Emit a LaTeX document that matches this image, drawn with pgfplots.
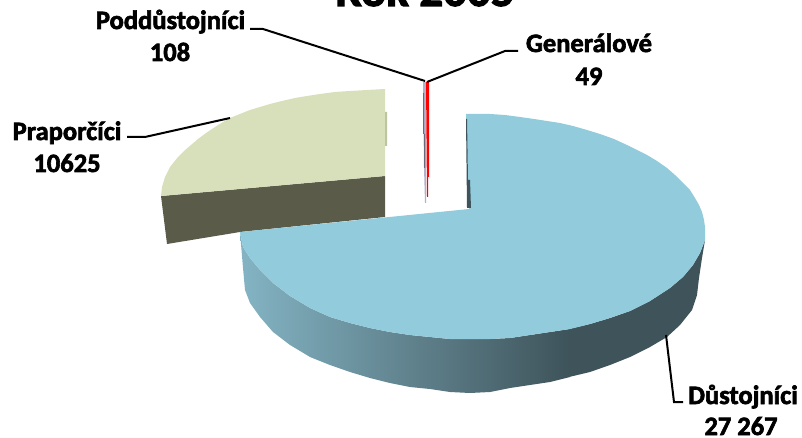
\documentclass[border=0pt]{standalone}
\usepackage{fontspec}
\setmainfont{Carlito}
\newfontfamily\lab[FakeBold=2.4]{Carlito Bold}
\usepackage{pgfplots}
\pgfplotsset{compat=1.18}
\definecolor{bluetop}{RGB}{146,203,219}
\definecolor{blueside}{RGB}{62,83,90}
\definecolor{bluelite}{RGB}{132,180,196}
\definecolor{greentop}{RGB}{215,224,187}
\definecolor{greenside}{RGB}{90,92,73}
\definecolor{greensliver}{RGB}{188,197,160}
\definecolor{lilac}{RGB}{178,178,205}
\definecolor{lilacdark}{RGB}{105,105,125}
\begin{document}
\begin{tikzpicture}
\useasboundingbox (0,0) rectangle (802pt,438pt);
\begin{axis}[
    at={(0,0)}, anchor=south west,
    scale only axis,
    width=802pt, height=438pt,
    xmin=0, xmax=802, ymin=0, ymax=438,
    y dir=reverse,
    hide axis,
]
% Praporcici: side, top
\addplot[draw=none, fill=greenside] coordinates {
    (161,196) (385,176) (385,217) (240,232) (167,244) (161,196)
};
\addplot[draw=none, fill=greentop] coordinates {
    (161,196) (162,187) (165,177) (170,167) (178,157) (184,151) (191,145) (198,139) (206,133)
    (218,125) (230,118) (240,114) (250,110) (260,107)
    (270,104) (282,101) (295,98) (307,96) (320,94) (335,92) (350,91) (367,90) (385,89) (385,176) (161,196)
};
\addplot[draw=none, fill=greensliver] coordinates {
    (385,112) (387,112) (387,146) (385,146) (385,112)
};
% Dustojnici: side with gradient, then top
\addplot[draw=none, left color=bluelite, right color=blueside] coordinates {
    (240,232) (243,268) (245,290) (250,303) (260,317) (273,332) (290,345) (310,357) (330,365)
    (350,372) (370,378) (390,383) (410,387) (430,389) (450,392) (470,393) (490,392) (510,388)
    (530,385) (550,382) (570,377)
    (570,329) (550,332) (530,335) (510,338) (490,339) (470,339) (450,339) (430,337) (410,335)
    (390,332) (370,328) (350,323) (330,317) (310,308) (290,296) (273,283) (260,270) (250,258)
    (243,247) (240,232)
};
\addplot[draw=none, fill=blueside] coordinates {
    (569,377) (590,372) (610,365) (630,357) (650,347) (667,337) (680,325) (692,310) (697,295)
    (699,278) (702,258) (705,240)
    (700,253) (693,265) (683,277) (670,288) (650,301) (630,311) (610,318) (590,324) (569,329) (569,377)
};
\addplot[draw=none, fill=bluetop] coordinates {
    (466,114) (490,114) (505,115) (520,117) (534,119) (547,121) (560,123) (573,126) (587,130) (600,134)
    (614,139) (627,145) (637,150) (647,155)
    (657,161) (667,168) (675,175) (683,183) (690,190) (695,198) (699,205) (702,212) (704,220) (705,227) (705,240)
    (700,253) (693,265) (683,277) (670,288) (650,301) (630,311) (610,318) (590,324) (570,329) (550,332)
    (530,335) (510,338) (490,339) (470,339) (450,339) (430,337) (410,335) (390,332) (370,328) (350,323)
    (330,317) (310,308) (290,296) (273,283) (260,270) (250,258) (243,247) (240,232) (469,209) (466,114)
};
\addplot[draw=none, fill=blueside] coordinates {
    (466,119) (467,119) (468,180) (470,180) (471,208) (467,208) (466,119)
};
% Generalove, Poddustojnici
\addplot[draw=none, fill=lilac] coordinates {
    (423,82) (426,82) (426,203) (425,203) (424,168) (423,82)
};
\addplot[draw=none, fill=lilacdark] coordinates {
    (423,93) (424,93) (424,134) (425,134) (425,168) (424,168) (424,134) (423,134) (423,93)
};
\addplot[draw=none, fill=red] coordinates {
    (426,82) (429,82) (429,177) (428,177) (428,197) (427,197) (426,82)
};
% leader lines
\addplot[black, line width=2pt] coordinates {(250,29) (263,29) (425,81)};
\addplot[black, line width=2pt] coordinates {(518,51) (505,51) (427,82)};
\addplot[black, line width=2pt] coordinates {(127,137) (145,137) (230,118)};
\addplot[black, line width=2pt] coordinates {(666,335) (674,402) (683,402)};
% labels
\node[font=\lab\fontsize{26.5}{28}\selectfont, anchor=base] at (axis cs:170.5,29) {Poddůstojníci};
\node[font=\lab\fontsize{26.5}{28}\selectfont, anchor=base] at (axis cs:170,61) {108};
\node[font=\lab\fontsize{26.5}{28}\selectfont, anchor=base] at (axis cs:67,140) {Praporčíci};
\node[font=\lab\fontsize{26.5}{28}\selectfont, anchor=base] at (axis cs:67,172) {10625};
\node[font=\lab\fontsize{26.5}{28}\selectfont, anchor=base] at (axis cs:589,52) {Generálové};
\node[font=\lab\fontsize{26.5}{28}\selectfont, anchor=base] at (axis cs:589,85) {49};
\node[font=\lab\fontsize{26.5}{28}\selectfont, anchor=base] at (axis cs:743,404) {Důstojníci};
\node[font=\lab\fontsize{26.5}{28}\selectfont, anchor=base] at (axis cs:741,435) {27 267};
\begin{scope}
\clip (axis cs:0,0) rectangle (axis cs:802,438);
\node[font=\lab\fontsize{47}{50}\selectfont, anchor=base] at (axis cs:425,6) {Rok 2005};
\end{scope}
\end{axis}
\end{tikzpicture}
\end{document}
